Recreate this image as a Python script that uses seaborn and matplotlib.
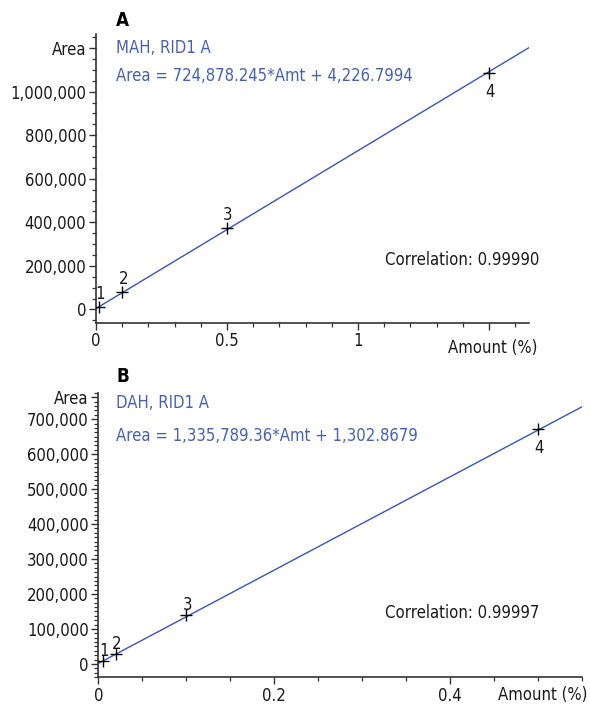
import matplotlib
matplotlib.use("Agg")
import matplotlib.pyplot as plt
import matplotlib.ticker as mticker
import seaborn as sns
import pandas as pd
import numpy as np

# ---- data ----
panel_names = ["A", "B"]
compounds = ["MAH, RID1 A", "DAH, RID1 A"]
equations = ["Area = 724,878.245*Amt + 4,226.7994", "Area = 1,335,789.36*Amt + 1,302.8679"]
correlations = ["Correlation: 0.99990", "Correlation: 0.99997"]
slopes = [724878.245, 1335789.36]
intercepts = [4226.7994, 1302.8679]

amount_a = [0.01, 0.1, 0.5, 1.5]
area_a = [9000, 78000, 374000, 1086000]
amount_b = [0.005, 0.02, 0.1, 0.5]
area_b = [9000, 28500, 140000, 672000]
level_labels = ["1", "2", "3", "4"]

xlims = [(0, 1.653), (0, 0.55)]
ylims = [(-60000, 1265000), (-37500, 775000)]
x_major = [[0, 0.5, 1, 1.5], [0, 0.2, 0.4]]
x_major_labels = [["0", "0.5", "1", ""], ["0", "0.2", "0.4"]]
x_minor = [0.1, 0.05]
y_major = [[0, 200000, 400000, 600000, 800000, 1000000, 1200000],
           [0, 100000, 200000, 300000, 400000, 500000, 600000, 700000, 762500]]
y_minor = [50000, 12500]

# ---- style ----
sns.set_theme(style="ticks")
plt.rcParams["font.family"] = ["DejaVu Sans"]
plt.rcParams["font.stretch"] = "condensed"
FS = 12
BLUE_TXT = "#4761b0"
BLUE_LINE = "#3a56b0"
AX_COL = "#333333"
TXT = "#1a1a1a"

fig = plt.figure(figsize=(5.9, 7.06), dpi=100)
axA = fig.add_axes([96/590, 1-322.5/706, (529-96)/590, (322.5-34)/706])
axB = fig.add_axes([98.3/590, 1-677/706, (582.3-98.3)/590, (677-393)/706])
axes = [axA, axB]

datasets = [(amount_a, area_a), (amount_b, area_b)]
label_up = [13, 10]

for i, ax in enumerate(axes):
    xs, ys = datasets[i]
    df = pd.DataFrame({"amount": xs, "area": ys, "lvl": level_labels})
    fx = np.array(xlims[i])
    fit = pd.DataFrame({"amount": fx, "area": slopes[i] * fx + intercepts[i]})
    sns.lineplot(data=fit, x="amount", y="area", ax=ax, color=BLUE_LINE, linewidth=1.0)
    sns.scatterplot(data=df, x="amount", y="area", ax=ax, marker="+", s=70,
                    color="black", linewidth=1.0, zorder=5)
    for j, row in df.iterrows():
        dy = -19 if j == 3 else label_up[i]
        ax.annotate(row["lvl"], (row["amount"], row["area"]), xytext=(1, dy),
                    textcoords="offset pixels", ha="center", va="center",
                    fontsize=FS, color=TXT)
    ax.set_xlim(*xlims[i])
    ax.set_ylim(*ylims[i])
    ax.set_xlabel("")
    ax.set_ylabel("")
    ax.set_xticks(x_major[i])
    ax.set_xticklabels(x_major_labels[i])
    ax.xaxis.set_minor_locator(mticker.MultipleLocator(x_minor[i]))
    ax.set_yticks(y_major[i])
    ylabels = [f"{int(v):,}" for v in y_major[i][:-1]] + ["Area"]
    ax.set_yticklabels(ylabels)
    ax.yaxis.set_minor_locator(mticker.MultipleLocator(y_minor[i]))
    sns.despine(ax=ax)
    for sp in ["left", "bottom"]:
        ax.spines[sp].set_color(AX_COL)
        ax.spines[sp].set_linewidth(1.2)
    ax.tick_params(which="major", length=5, width=1.0, color=AX_COL,
                   labelsize=FS, labelcolor=TXT, pad=2)
    ax.tick_params(which="minor", length=3, width=0.9, color=AX_COL)
    ax.patch.set_alpha(0)

# ---- texts (pixel positions) ----
def fig_text(x, y, s, **kw):
    fig.text(x/590, 1-y/706, s, **kw)

fig_text(116, 20, "A", fontsize=13.5, fontweight="bold", color="black", va="center", ha="left")
fig_text(116, 48, compounds[0], fontsize=FS, color=BLUE_TXT, va="center", ha="left")
fig_text(116, 76, equations[0], fontsize=FS, color=BLUE_TXT, va="center", ha="left")
fig_text(539, 260, correlations[0], fontsize=FS, color=TXT, va="center", ha="right")
fig_text(537, 348, "Amount (%)", fontsize=FS, color=TXT, va="center", ha="right")

fig_text(116, 376, "B", fontsize=13.5, fontweight="bold", color="black", va="center", ha="left")
fig_text(116, 403, compounds[1], fontsize=FS, color=BLUE_TXT, va="center", ha="left")
fig_text(116, 436, equations[1], fontsize=FS, color=BLUE_TXT, va="center", ha="left")
fig_text(539, 613, correlations[1], fontsize=FS, color=TXT, va="center", ha="right")
fig_text(587, 695, "Amount (%)", fontsize=FS, color=TXT, va="center", ha="right")

fig.savefig("out.png", dpi=100, facecolor="white")
